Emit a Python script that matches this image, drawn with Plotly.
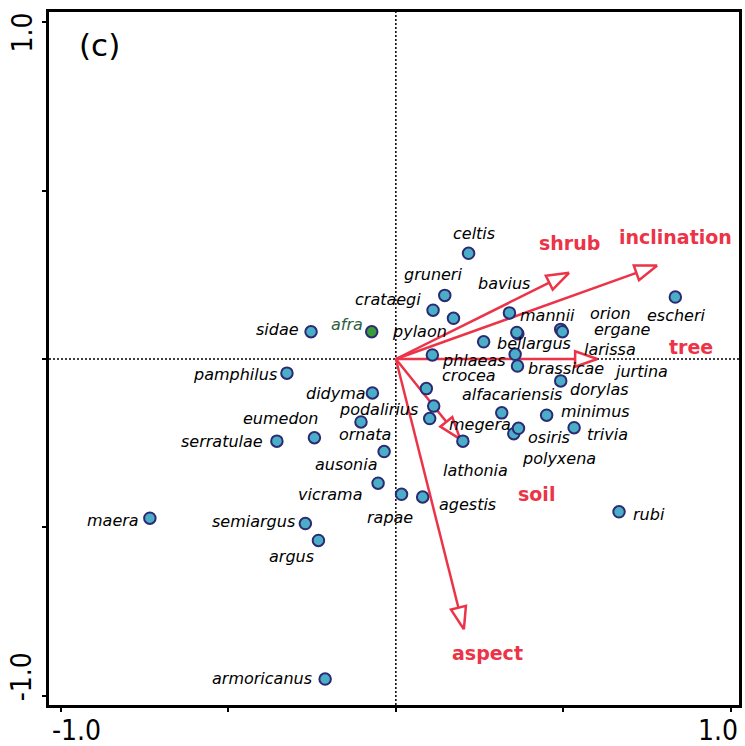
import numpy as np
import plotly.graph_objects as go

# ---- data -------------------------------------------------------------
species = ["celtis", "gruneri", "crataegi", "pylaon", "bavius", "mannii", "orion", "ergane",
           "escheri", "bellargus", "larissa", "phlaeas", "brassicae", "jurtina", "dorylas",
           "crocea", "alfacariensis", "podalirius", "megera", "minimus", "osiris", "polyxena",
           "trivia", "lathonia", "didyma", "ornata", "eumedon", "serratulae", "sidae", "afra",
           "pamphilus", "ausonia", "vicrama", "rapae", "agestis", "rubi", "maera", "semiargus",
           "argus", "armoricanus"]
axis1 = [0.217, 0.146, 0.111, 0.172, 0.339, 0.364, 0.492, 0.497,
         0.834, 0.262, 0.356, 0.109, 0.363, 0.361, 0.492,
         0.091, 0.316, 0.113, 0.101, 0.450, 0.352, 0.366,
         0.532, 0.200, -0.070, -0.104, -0.243, -0.355, -0.253, -0.072,
         -0.325, -0.035, -0.053, 0.017, 0.080, 0.666, -0.734, -0.270,
         -0.231, -0.211]
axis2 = [0.314, 0.189, 0.145, 0.121, 0.137, 0.075, 0.088, 0.081,
         0.184, 0.051, 0.014, 0.012, -0.021, 0.079, -0.065,
         -0.088, -0.160, -0.140, -0.177, -0.167, -0.222, -0.206,
         -0.204, -0.244, -0.101, -0.187, -0.234, -0.244, 0.081, 0.081,
         -0.042, -0.275, -0.369, -0.402, -0.410, -0.454, -0.473, -0.489,
         -0.539, -0.951]

env_vars = ["shrub", "inclination", "tree", "soil", "aspect"]
env_x = [0.517, 0.780, 0.601, 0.192, 0.203]
env_y = [0.256, 0.278, 0.000, -0.238, -0.803]

tick_values = [-1.0, -0.5, 0.0, 0.5, 1.0]
tick_labels = ["-1.0", "1.0"]
panel_label = "(c)"

# ---- styling / label placement (pixels) --------------------------------
label_offsets = {
    "celtis": (5, 20), "gruneri": (-12, 21), "crataegi": (-45, 11), "pylaon": (-34, -13),
    "bavius": (-5, 29), "mannii": (30, 18), "orion": (50, 16), "ergane": (60, 2),
    "escheri": (1, -18), "bellargus": (50, -2), "larissa": (95, 5), "phlaeas": (42, -6),
    "brassicae": (49, -2), "jurtina": (124, -39), "dorylas": (39, -9), "crocea": (43, 13),
    "alfacariensis": (10, 18), "podalirius": (-55, -3), "megera": (50, -6),
    "minimus": (49, 4), "osiris": (35, -4), "polyxena": (41, -30), "trivia": (33, -7),
    "lathonia": (13, -29), "didyma": (-36, 0), "ornata": (4, -13), "eumedon": (-33, 19),
    "serratulae": (-55, 0), "sidae": (-34, 2), "afra": (-25, 7), "pamphilus": (-52, -1),
    "ausonia": (-38, -13), "vicrama": (-48, -11), "rapae": (-12, -23), "agestis": (45, -7),
    "rubi": (30, -3), "maera": (-37, -2), "semiargus": (-52, 2), "argus": (-27, -16),
    "armoricanus": (-63, 1),
}
env_offsets = {"shrub": (0, 30), "inclination": (18, 28), "tree": (94, 12),
               "soil": (76, -55), "aspect": (24, -24)}

RED = "#ec3347"
PT_FILL = "#4aaec9"
PT_EDGE = "#2c2b72"
AFRA_FILL = "#3a9b3a"
AFRA_TEXT = "#2e5e3e"

RANGE_X = [-1.035, 1.024]
RANGE_Y = [-1.028, 1.031]

fig = go.Figure()

# environmental arrows
L_HEAD = 0.066
W_HEAD = 0.023
for name, ex, ey in zip(env_vars, env_x, env_y):
    v = np.array([ex, ey])
    n = np.linalg.norm(v)
    u = v / n
    p = np.array([-u[1], u[0]])
    base = v - L_HEAD * u
    fig.add_trace(go.Scatter(x=[0, base[0]], y=[0, base[1]], mode="lines",
                             line=dict(color=RED, width=2.5), hoverinfo="skip",
                             showlegend=False))
    b1 = base + W_HEAD * p
    b2 = base - W_HEAD * p
    fig.add_trace(go.Scatter(x=[v[0], b1[0], b2[0], v[0]], y=[v[1], b1[1], b2[1], v[1]],
                             mode="lines", fill="toself", fillcolor="white",
                             line=dict(color=RED, width=2.5), hoverinfo="skip",
                             showlegend=False))

# species points
colors = [AFRA_FILL if s == "afra" else PT_FILL for s in species]
fig.add_trace(go.Scatter(x=axis1, y=axis2, mode="markers",
                         marker=dict(size=11.5, color=colors,
                                     line=dict(color=PT_EDGE, width=2)),
                         text=species, hoverinfo="text", showlegend=False))

annotations = []
for s, x, y in zip(species, axis1, axis2):
    dx, dy = label_offsets[s]
    annotations.append(dict(x=x, y=y, xref="x", yref="y", text="<i>%s</i>" % s,
                            showarrow=False, xshift=dx, yshift=dy,
                            xanchor="center", yanchor="middle",
                            font=dict(family="DejaVu Sans", size=16,
                                      color=AFRA_TEXT if s == "afra" else "black"),
                            ))
for name, ex, ey in zip(env_vars, env_x, env_y):
    dx, dy = env_offsets[name]
    annotations.append(dict(x=ex, y=ey, xref="x", yref="y", text="<b>%s</b>" % name,
                            showarrow=False, xshift=dx, yshift=dy,
                            xanchor="center", yanchor="middle",
                            font=dict(family="DejaVu Sans", size=19, color=RED)))

# tick labels (only the extremes are labelled)
TICK_FONT = dict(family="DejaVu Sans Condensed, DejaVu Sans", size=28, color="black")
annotations += [
    dict(x=0.0014, y=-0.0375, xref="paper", yref="paper", text=tick_labels[0],
         showarrow=False, xanchor="left", yanchor="middle", font=TICK_FONT),
    dict(x=1.0014, y=-0.0375, xref="paper", yref="paper", text=tick_labels[1],
         showarrow=False, xanchor="right", yanchor="middle", font=TICK_FONT),
    dict(x=-0.0382, y=0.970, xref="paper", yref="paper", text=tick_labels[1],
         showarrow=False, xanchor="center", yanchor="middle", textangle=-90, font=TICK_FONT),
    dict(x=-0.0397, y=0.0408, xref="paper", yref="paper", text=tick_labels[0],
         showarrow=False, xanchor="center", yanchor="middle", textangle=-90, font=TICK_FONT),
    dict(x=0.04, y=0.952, xref="paper", yref="paper", text=panel_label, showarrow=False,
         xanchor="left", yanchor="middle",
         font=dict(family="DejaVu Sans", size=31, color="black")),
]

# dotted zero lines
shapes = [
    dict(type="line", xref="x", yref="paper", x0=0, x1=0, y0=0, y1=1, layer="below",
         line=dict(color="black", width=1.5, dash="2px,2px")),
    dict(type="line", xref="paper", yref="y", x0=0, x1=1, y0=0, y1=0, layer="below",
         line=dict(color="black", width=1.5, dash="2px,2px")),
]

axis_common = dict(showgrid=False, zeroline=False, showline=True,
                   linecolor="black", linewidth=2.5, mirror=True, ticks="outside",
                   ticklen=4, tickwidth=2, tickcolor="black", tickvals=tick_values,
                   showticklabels=False, fixedrange=True)

fig.update_layout(
    width=745, height=746,
    margin=dict(l=49, r=3, t=12, b=41),
    paper_bgcolor="white", plot_bgcolor="white",
    xaxis=dict(range=RANGE_X, **axis_common),
    yaxis=dict(range=RANGE_Y, **axis_common),
    annotations=annotations, shapes=shapes,
    showlegend=False,
)

fig.write_html("out.html")
